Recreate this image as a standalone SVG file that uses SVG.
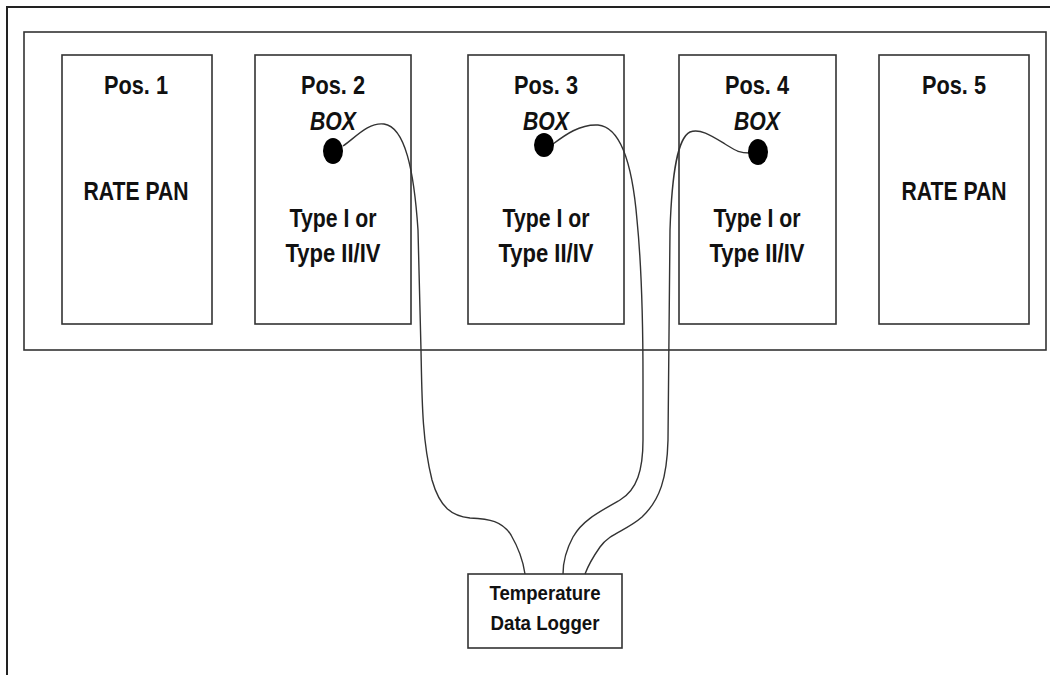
<svg xmlns="http://www.w3.org/2000/svg" width="1050" height="675" viewBox="0 0 1050 675">
  <style>
    .frame { fill: none; stroke: #222; stroke-width: 2; }
    .box { fill: #fff; stroke: #333; stroke-width: 1.6; }
    .wire { fill: none; stroke: #333; stroke-width: 1.4; }
    .probe { fill: #000; }
    text { font-family: "Liberation Sans", Arial, sans-serif; font-weight: bold; fill: #111; text-anchor: middle; }
    .lbl { font-size: 26px; }
    .box-tag { font-size: 25px; font-style: italic; }
    .logger-lbl { font-size: 21px; }
  </style>
  <rect width="1050" height="675" fill="#fff"/>

  <!-- outer page frame (top and left edges) -->
  <path class="frame" d="M 7 675 L 7 7 L 1050 7"/>

  <!-- tray holding the five positions -->
  <g id="tray">
    <rect class="box" x="24" y="32" width="1022" height="318"/>
  </g>

  <g id="pos1">
    <rect class="box" x="62" y="55" width="150" height="269"/>
    <text class="lbl" x="136" y="94" textLength="64" lengthAdjust="spacingAndGlyphs">Pos. 1</text>
    <text class="lbl" x="136" y="200" textLength="105" lengthAdjust="spacingAndGlyphs">RATE PAN</text>
  </g>

  <g id="pos2">
    <rect class="box" x="255" y="55" width="156" height="269"/>
    <text class="lbl" x="333" y="94" textLength="64" lengthAdjust="spacingAndGlyphs">Pos. 2</text>
    <text class="box-tag" x="333" y="130" textLength="46" lengthAdjust="spacingAndGlyphs">BOX</text>
    <text class="lbl" x="333" y="227" textLength="87" lengthAdjust="spacingAndGlyphs">Type I or</text>
    <text class="lbl" x="333" y="262" textLength="95" lengthAdjust="spacingAndGlyphs">Type II/IV</text>
  </g>

  <g id="pos3">
    <rect class="box" x="468" y="55" width="156" height="269"/>
    <text class="lbl" x="546" y="94" textLength="64" lengthAdjust="spacingAndGlyphs">Pos. 3</text>
    <text class="box-tag" x="546" y="130" textLength="46" lengthAdjust="spacingAndGlyphs">BOX</text>
    <text class="lbl" x="546" y="227" textLength="87" lengthAdjust="spacingAndGlyphs">Type I or</text>
    <text class="lbl" x="546" y="262" textLength="95" lengthAdjust="spacingAndGlyphs">Type II/IV</text>
  </g>

  <g id="pos4">
    <rect class="box" x="679" y="55" width="157" height="269"/>
    <text class="lbl" x="757" y="94" textLength="64" lengthAdjust="spacingAndGlyphs">Pos. 4</text>
    <text class="box-tag" x="757" y="130" textLength="46" lengthAdjust="spacingAndGlyphs">BOX</text>
    <text class="lbl" x="757" y="227" textLength="87" lengthAdjust="spacingAndGlyphs">Type I or</text>
    <text class="lbl" x="757" y="262" textLength="95" lengthAdjust="spacingAndGlyphs">Type II/IV</text>
  </g>

  <g id="pos5">
    <rect class="box" x="879" y="55" width="150" height="269"/>
    <text class="lbl" x="954" y="94" textLength="64" lengthAdjust="spacingAndGlyphs">Pos. 5</text>
    <text class="lbl" x="954" y="200" textLength="105" lengthAdjust="spacingAndGlyphs">RATE PAN</text>
  </g>

  <g id="logger">
    <rect class="box" x="468" y="574" width="154" height="74"/>
    <text class="logger-lbl" x="545" y="600" textLength="111" lengthAdjust="spacingAndGlyphs">Temperature</text>
    <text class="logger-lbl" x="545" y="630" textLength="109" lengthAdjust="spacingAndGlyphs">Data Logger</text>
  </g>

  <!-- thermocouple leads from each probe to the logger -->
  <g id="connectors">
    <path class="wire" d="M 343 146 C 355 138, 368 122, 384 124 C 405 127, 414 170, 418 230 L 421 350 C 422 400, 422 440, 432 480 C 440 508, 452 516, 470 518 C 490 519, 502 521, 511 535 C 518 547, 523 560, 525 574"/>
    <path class="wire" d="M 553 144 C 565 135, 580 124, 598 125 C 620 127, 632 160, 637 220 C 642 270, 643 320, 643 380 L 643 440 C 643 470, 637 490, 620 500 C 597 513, 582 521, 573 537 C 566 550, 563 562, 563 574"/>
    <path class="wire" d="M 750 153 C 738 153, 735 150, 725 144 C 712 136, 700 128, 690 132 C 678 138, 672 170, 670 230 L 668 440 C 667 478, 660 500, 642 517 C 626 531, 610 533, 600 547 C 593 557, 588 566, 585 574"/>
  </g>

  <!-- probe tips -->
  <g id="probes">
    <ellipse class="probe" cx="333" cy="151" rx="10" ry="13"/>
    <ellipse class="probe" cx="544" cy="145" rx="10" ry="12"/>
    <ellipse class="probe" cx="758" cy="152" rx="10" ry="13"/>
  </g>
</svg>
